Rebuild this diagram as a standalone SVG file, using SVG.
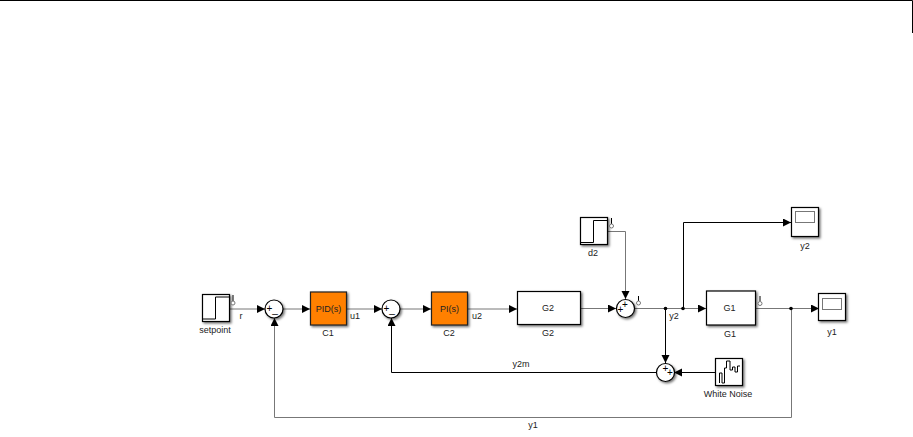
<svg xmlns="http://www.w3.org/2000/svg" width="913" height="437" viewBox="0 0 913 437">
<style>
text{font-family:"Liberation Sans",Arial,sans-serif;font-size:9px;fill:#222;text-anchor:middle}
.b{fill:#fff;stroke:#000;stroke-width:1.2;filter:url(#s)}
.o{fill:#ff8000;stroke:#222;stroke-width:1.2;filter:url(#s)}
.g{fill:none;stroke:#777;stroke-width:1}
.k{fill:none;stroke:#000;stroke-width:1}
.t{fill:none;stroke:#000;stroke-width:1}
.gs{fill:#fff;stroke:#777;stroke-width:1}
.p{font-size:10px;fill:#000}
.d{fill:#000}
</style>
<defs>
<filter id="s" x="-20%" y="-20%" width="150%" height="150%"><feDropShadow dx="1.5" dy="1.5" stdDeviation="1.2" flood-color="#000" flood-opacity=".55"/></filter>
<marker id="a" markerUnits="userSpaceOnUse" markerWidth="9" markerHeight="9" refX="8" refY="4" orient="auto"><path d="M0 0L8 4L0 8z" fill="#000"/></marker>
</defs>
<rect width="913" height="437" fill="#fff"/>
<path d="M0 .5H912.500V33" fill="none" stroke="#000" stroke-width="1"/>
<g id="connectors">
<path class="g" d="M229 309H265" marker-end="url(#a)"/>
<path class="g" d="M283 309H310" marker-end="url(#a)"/>
<path class="g" d="M347 309H382" marker-end="url(#a)"/>
<path class="g" d="M400 309H431" marker-end="url(#a)"/>
<path class="g" d="M468 309H517" marker-end="url(#a)"/>
<path class="g" d="M581 308.500H616" marker-end="url(#a)"/>
<path class="g" d="M608 231.500H625.500V299" marker-end="url(#a)"/>
<path class="g" d="M634 308.500H706" marker-end="url(#a)"/>
<path class="k" d="M665.500 308.500V363" marker-end="url(#a)"/>
<path class="k" d="M683.500 308.500V222.500H791" marker-end="url(#a)"/>
<path class="g" d="M756 308.500H819" marker-end="url(#a)"/>
<path class="k" d="M715 372.500H674" marker-end="url(#a)"/>
<path class="k" d="M656 372.500H391.500V318" marker-end="url(#a)"/>
<path class="g" d="M791.500 308.500V417.500H274.500V318" marker-end="url(#a)"/>
<circle class="d" cx="665.500" cy="308.500" r="1.800"/>
<circle class="d" cx="683" cy="308.500" r="1.800"/>
<circle class="d" cx="791" cy="308.500" r="1.800"/>
</g>
<g id="setpoint"><rect class="b" x="202.500" y="294.500" width="27" height="27"/><path class="t" d="M203 319H215.500V297H229"/><path class="t" d="M233 295V301"/><circle class="gs" cx="233" cy="303" r="2"/><text x="215" y="333">setpoint</text></g>
<g id="sum1"><circle class="b" cx="274" cy="309" r="9"/><text class="p" x="269.500" y="312">+</text><text class="p" x="275" y="313">_</text></g>
<g id="C1"><rect class="o" x="310.500" y="292" width="36" height="33"/><text x="328.500" y="311.500">PID(s)</text><text x="328" y="336">C1</text></g>
<g id="sum2"><circle class="b" cx="391" cy="309" r="9"/><text class="p" x="386.500" y="312">+</text><text class="p" x="392" y="313">_</text></g>
<g id="C2"><rect class="o" x="431.500" y="292" width="36" height="33"/><text x="449.500" y="311.500">PI(s)</text><text x="449" y="336">C2</text></g>
<g id="G2"><rect class="b" x="517.500" y="291.500" width="63" height="33"/><text x="548" y="311">G2</text><text x="548" y="336">G2</text></g>
<g id="d2"><rect class="b" x="580.500" y="217.500" width="27" height="27"/><path class="t" d="M581 242.500H593.500V220.500H607"/><path class="t" d="M611.500 218V224"/><circle class="gs" cx="611.500" cy="226" r="2"/><text x="593" y="256">d2</text></g>
<g id="sum3"><circle class="b" cx="625.500" cy="308.500" r="9"/><text class="p" x="625" y="308">+</text><text class="p" x="620.500" y="312.500">+</text><path class="t" d="M638.500 296V301"/><circle class="gs" cx="638.500" cy="303" r="2"/></g>
<g id="sum4"><circle class="b" cx="665.500" cy="372.500" r="9"/><text class="p" x="665.500" y="371.500">+</text><text class="p" x="670" y="376">+</text></g>
<g id="G1"><rect class="b" x="706.500" y="291" width="49" height="34"/><text x="729.500" y="311">G1</text><text x="730" y="337">G1</text><path class="t" d="M760 296V301"/><circle class="gs" cx="760" cy="303.500" r="2"/></g>
<g id="y1"><rect class="b" x="818.500" y="293.500" width="27" height="27"/><rect x="822.500" y="298.500" width="19" height="11" fill="#fff" stroke="#777"/><text x="832" y="335">y1</text></g>
<g id="y2"><rect class="b" x="791.500" y="207.500" width="27" height="29"/><rect x="795.500" y="211.500" width="19" height="11" fill="#fff" stroke="#777"/><text x="805" y="249">y2</text></g>
<g id="WhiteNoise"><rect class="b" x="715.500" y="358.500" width="27" height="27"/><path class="t" d="M719.500 383V373H722V383H724.500V368H726.500V361H730V370H732.500V367H735V372H737.500V366H740" stroke-width=".9"/><text x="728" y="397">White Noise</text></g>
<g id="labels"><text x="241" y="319">r</text><text x="355" y="319">u1</text><text x="477" y="319">u2</text><text x="674" y="319">y2</text><text x="521" y="367">y2m</text><text x="533" y="428">y1</text></g>
</svg>
